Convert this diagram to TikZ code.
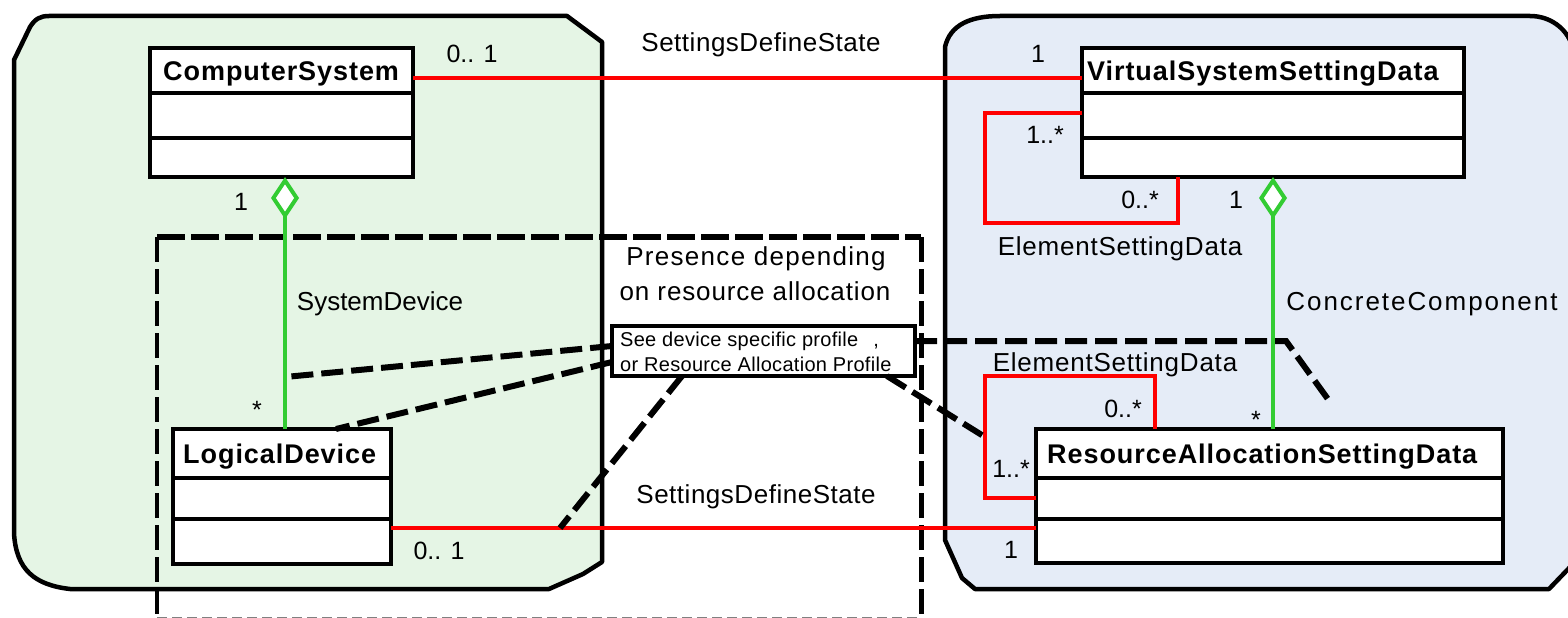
\documentclass[tikz,border=0pt]{standalone}
\usepackage{fontspec}
\setmainfont{Liberation Sans}
\usetikzlibrary{arrows.meta}
\definecolor{panelgreen}{RGB}{229,245,229}
\definecolor{panelblue}{RGB}{229,236,247}
\definecolor{assocred}{RGB}{255,0,0}
\definecolor{aggrgreen}{RGB}{51,204,51}

% class box: name, x1, y1, x2, y2, divider1, divider2, title x, title
\newcommand{\umlclass}[9]{%
  \node[classframe, minimum width={#4-#2}, minimum height={#5-#3}] (#1) at (#2,#3) {};
  \draw[divider] (#2,#6) -- (#4,#6) (#2,#7) -- (#4,#7);
  \node[classtitle] (#1-title) at ({#8},{(#3+#6)/2+10}) {#9};
}
% tracked label text
\newcommand{\tracked}[2]{{\addfontfeatures{LetterSpace=#1}#2}}

\begin{document}
\begin{tikzpicture}[x=1pt,y=-1pt,
  panel/.style={draw=black, line width=4.5pt, line join=round},
  classframe/.style={draw=black, fill=white, line width=4pt, inner sep=0pt, outer sep=0pt, anchor=north west},
  divider/.style={line width=3.5pt},
  classtitle/.style={font=\fontsize{27}{30}\selectfont\bfseries\addfontfeatures{LetterSpace=3.5}, inner sep=0pt, anchor=base west},
  lbl/.style={font=\fontsize{26}{30}\selectfont, inner sep=0pt, anchor=base},
  mult/.style={font=\fontsize{25}{30}\selectfont, inner sep=0pt, anchor=base},
  notetext/.style={font=\fontsize{20}{24}\selectfont\addfontfeatures{LetterSpace=1.5}, inner sep=0pt, anchor=base west},
  assoc/.style={draw=assocred, line width=4pt},
  aggr/.style={draw=aggrgreen, line width=4pt},
  aggrtip/.style={{Diamond[open, fill=white, length=42pt, width=28pt]}-},
  notelink/.style={line width=6pt, dash pattern=on 22pt off 8pt},
  notebox/.style={draw=black, fill=white, line width=3.5pt, inner sep=0pt, outer sep=0pt, anchor=north west},
]
\useasboundingbox (0,0) rectangle (1568,618);

% package panels
\draw[panel, fill=panelgreen] (14,60) -- (30,27) .. controls (35,19) and (40,16) .. (49,16)
  -- (567,16) -- (602,42) -- (602,562) -- (583,574) -- (549,589) -- (70,589)
  .. controls (35,585) and (16,570) .. (14,533) -- cycle;
\draw[panel, fill=panelblue] (945,47) .. controls (950,25) and (970,16) .. (1000,16)
  -- (1530,16) .. controls (1550,16) and (1566,28) .. (1572,45) -- (1572,565)
  -- (1549,589) -- (975,589) -- (962,578) -- (945,540) -- cycle;

% region whose contents depend on resource allocation
\draw[line width=6pt, dash pattern=on 28pt off 6pt] (157,237) -- (921,237);
\draw[line width=4pt, dash pattern=on 25pt off 7pt] (157,237) -- (157,625);
\draw[line width=5pt, dash pattern=on 25pt off 7pt] (921,237) -- (921,625);
\draw[line width=1pt, gray, dash pattern=on 10pt off 5pt] (157,617) -- (921,617);

% classes
\umlclass{cs}{150}{48}{413}{177}{93}{138}{163}{ComputerSystem}
\umlclass{vssd}{1082}{48}{1464}{177}{93}{138}{1087}{VirtualSystemSettingData}
\umlclass{ld}{173}{429}{391}{564}{478}{519}{183}{LogicalDevice}
\umlclass{rasd}{1036}{429}{1503}{563}{478}{519}{1047}{ResourceAllocationSettingData}

% note
\node[notebox, minimum width=303pt, minimum height=50pt] (note) at (612,326) {};
\node[notetext] at (620,346) {See device specific profile\hspace{15pt},};
\node[notetext] at (620,371) {or Resource Allocation Profile};

% connection points of the note links
\coordinate (sdpoint) at (285,377);
\coordinate (sdspoint) at (560,528);
\coordinate (esdpoint) at (985,437);
\coordinate (ccbend) at (1286,341);
\coordinate (ccpoint) at (1330,402);

% associations
\draw[assoc] ([yshift=-30pt]cs.north east) -- ([yshift=-30pt]vssd.north west);
\draw[assoc] ([yshift=-99pt]ld.north east) -- ([yshift=-99pt]rasd.north west);
\draw[assoc] ([yshift=-65pt]vssd.north west) -| (985,223) -| ([xshift=96pt]vssd.south west);
\draw[assoc] ([yshift=-69pt]rasd.north west) -| (985,376) -| ([xshift=119pt]rasd.north west);

% aggregations
\draw[aggr, aggrtip] ([xshift=135pt]cs.south west) -- ([xshift=112pt]ld.north west);
\draw[aggr, aggrtip] ([xshift=191pt]vssd.south west) -- ([xshift=237pt]rasd.north west);

% note links
\draw[notelink] ([yshift=-20pt]note.north west) -- (sdpoint);
\draw[notelink] ([yshift=-36pt]note.north west) -- ([xshift=163pt]ld.north west);
\draw[notelink] ([xshift=70pt]note.south west) -- (sdspoint);
\draw[notelink] ([xshift=275pt]note.south west) -- (esdpoint);
\draw[notelink] ([yshift=-15pt]note.north east) -- (ccbend) -- (ccpoint);

% association labels
\node[lbl] at (761,52) {\tracked{2}{SettingsDefineState}};
\node[mult] at (472,63) {0.. 1};
\node[mult] at (1038,63) {1};
\node[lbl] at (756,503) {\tracked{2}{SettingsDefineState}};
\node[mult] at (439,559) {0.. 1};
\node[mult] at (1011,558) {1};
\node[mult] at (1045,143) {1..*};
\node[mult] at (1140,208) {0..*};
\node[lbl] at (1120,255) {\tracked{3}{ElementSettingData}};
\node[lbl] at (1115,371) {\tracked{3}{ElementSettingData}};
\node[mult] at (1123,417) {0..*};
\node[mult] at (1011,477) {1..*};
\node[mult] at (241,210) {1};
\node[mult] at (257,418) {*};
\node[lbl] at (380,310) {SystemDevice};
\node[mult] at (1236,208) {1};
\node[mult] at (1256,428) {*};
\node[lbl] at (1422,310) {\tracked{7.5}{ConcreteComponent}};
\node[lbl] at (756,265) {\tracked{5}{Presence depending}};
\node[lbl] at (755,300) {\tracked{3.3}{on resource allocation}};
\end{tikzpicture}
\end{document}
